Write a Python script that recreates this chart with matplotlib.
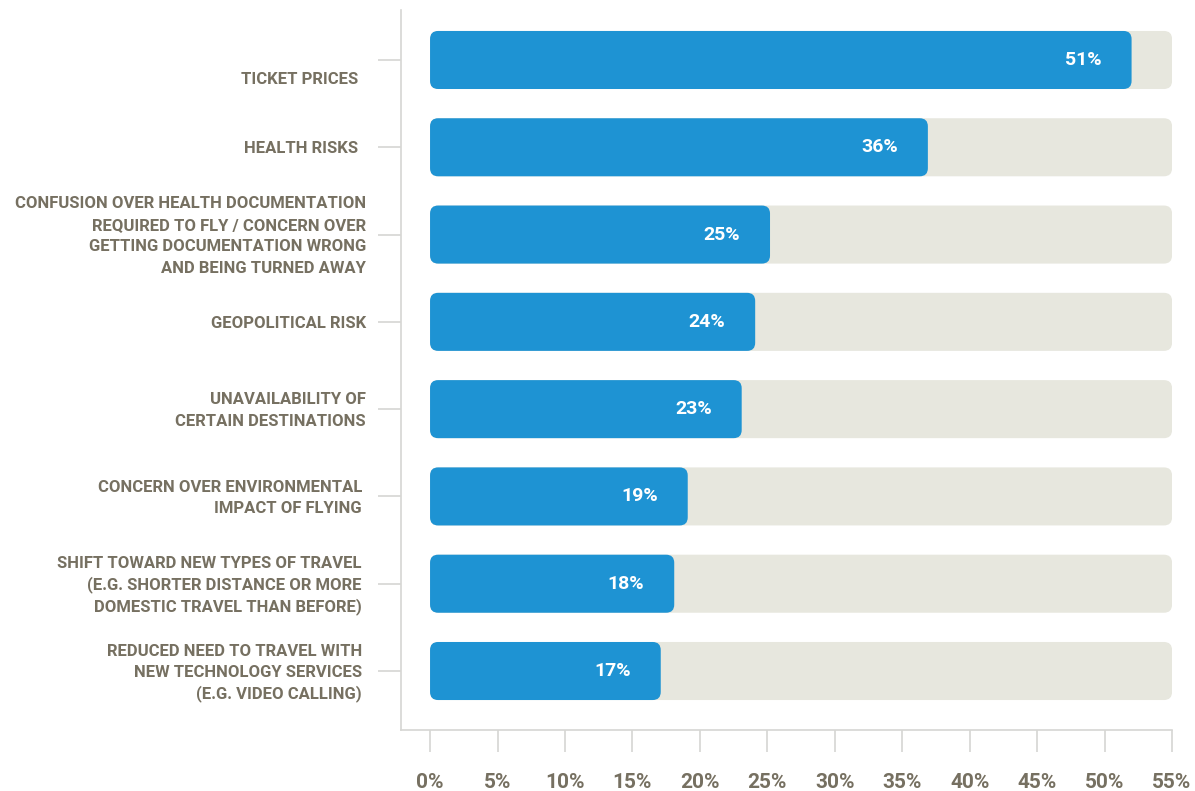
import matplotlib
matplotlib.use("Agg")
import matplotlib.pyplot as plt
from matplotlib.patches import FancyBboxPatch

# -------------------------------
# Data
# -------------------------------
categories = [
    "TICKET PRICES  ",
    "HEALTH RISKS  ",
    "CONFUSION OVER HEALTH DOCUMENTATION\nREQUIRED TO FLY / CONCERN OVER\nGETTING DOCUMENTATION WRONG\nAND BEING TURNED AWAY",
    "GEOPOLITICAL RISK",
    "UNAVAILABILITY OF\nCERTAIN DESTINATIONS",
    "CONCERN OVER ENVIRONMENTAL \nIMPACT OF FLYING ",
    "SHIFT TOWARD NEW TYPES OF TRAVEL \n(E.G. SHORTER DISTANCE OR MORE \nDOMESTIC TRAVEL THAN BEFORE) ",
    "REDUCED NEED TO TRAVEL WITH \nNEW TECHNOLOGY SERVICES \n(E.G. VIDEO CALLING) ",
]
bar_values = [52.0, 36.9, 25.2, 24.1, 23.1, 19.1, 18.1, 17.1]
value_labels = ["51%", "36%", "25%", "24%", "23%", "19%", "18%", "17%"]
track_max = 55
x_ticks = [0, 5, 10, 15, 20, 25, 30, 35, 40, 45, 50, 55]

blue = "#1E93D3"
track = "#E7E7DE"
text_col = "#767061"
line_col = "#D6D6D3"
font = "Roboto"

# -------------------------------
# Figure
# -------------------------------
fig = plt.figure(figsize=(11.95, 7.91), dpi=100)
ax = fig.add_axes([0.3356, 0.0771, 0.9808 - 0.3356, 0.9874 - 0.0771])

ax.set_xlim(-2.15, 55)
ax.set_ylim(7.676, -0.573)

x_px = 13.49   # pixels per % on x
y_px = 87.29   # pixels per category on y
aspect = x_px / y_px
bar_h = 0.665
r = 0.6

for i, v in enumerate(bar_values):
    bg = FancyBboxPatch((0, i - bar_h / 2), track_max, bar_h,
                        boxstyle=f"round,pad=0,rounding_size={r}",
                        mutation_aspect=aspect, fc=track, ec="none", zorder=1)
    ax.add_patch(bg)
    fg = FancyBboxPatch((0, i - bar_h / 2), v, bar_h,
                        boxstyle=f"round,pad=0,rounding_size={r}",
                        mutation_aspect=aspect, fc=blue, ec="none", zorder=2)
    ax.add_patch(fg)
    ax.annotate(value_labels[i], xy=(v, i), xytext=(-30, 0),
                textcoords="offset pixels", ha="right", va="center",
                color="white", fontsize=14, fontweight="bold",
                family=font, zorder=3)

# category labels, one text per line so spacing stays even
# (first one sits a bit lower in the original)
line_gap = 21.5
for i, lab in enumerate(categories):
    dy = -18 if i == 0 else 0
    lines = lab.split("\n")
    n = len(lines)
    for k, line in enumerate(lines):
        off = ((n - 1) / 2 - k) * line_gap + dy - 6
        ax.annotate(line, xy=(0, i), xycoords=("axes fraction", "data"),
                    xytext=(-35, off), textcoords="offset pixels",
                    ha="right", va="baseline",
                    color=text_col, fontsize=12, fontweight="bold",
                    family=font)

# spines and ticks
for s in ["top", "right"]:
    ax.spines[s].set_visible(False)
ax.spines["left"].set_color(line_col)
ax.spines["bottom"].set_color(line_col)
ax.spines["left"].set_linewidth(1.2)
ax.spines["bottom"].set_linewidth(1.2)
ax.spines["bottom"].set_bounds(-2.15, 55)

ax.set_yticks(range(len(categories)))
ax.set_yticklabels([])
ax.tick_params(axis="y", length=16.5, width=1.2, color=line_col)

ax.set_xticks(x_ticks)
ax.set_xticklabels([f"{t}%" for t in x_ticks])
ax.tick_params(axis="x", length=16, width=1.2, color=line_col, pad=15,
               labelcolor=text_col, labelsize=15)
for t in ax.get_xticklabels():
    t.set_fontweight("bold")
    t.set_family(font)

fig.savefig("out.png", dpi=100)
